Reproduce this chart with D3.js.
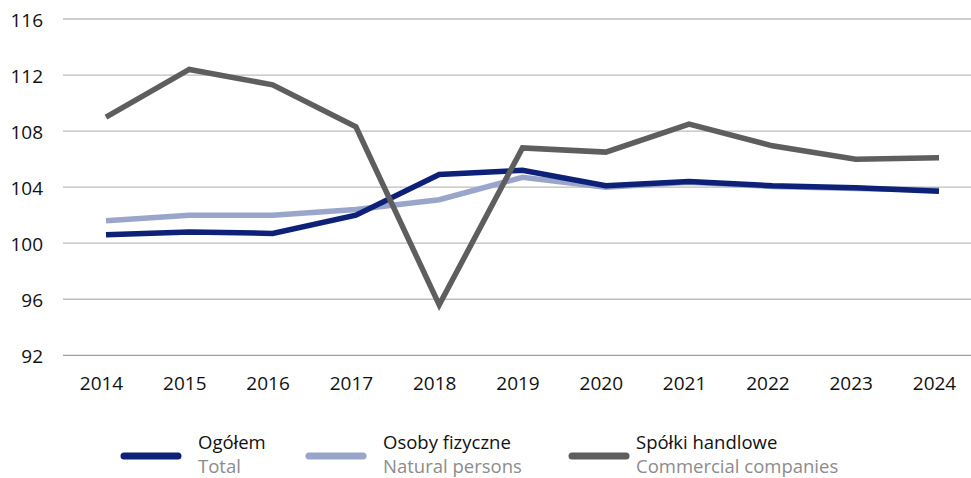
<!DOCTYPE html>
<html><head><meta charset="utf-8">
<script src="https://cdn.jsdelivr.net/npm/d3@7"></script>
<style>body{margin:0;background:#fff}svg{display:block;font-family:"Open Sans",sans-serif}</style>
</head><body><svg id="c" width="971" height="478"></svg>
<script>
const years = [2014,2015,2016,2017,2018,2019,2020,2021,2022,2023,2024];
const ogolem = [100.6,100.8,100.7,102.0,104.9,105.2,104.1,104.4,104.1,103.95,103.7];
const osoby = [101.6,102.0,102.0,102.4,103.1,104.7,104.0,104.35,104.05,103.9,103.8];
const spolki = [109.0,112.4,111.3,108.3,95.6,106.8,106.5,108.5,106.95,106.0,106.1];
const yTicks = [92,96,100,104,108,112,116];
const seriesNames = ["Ogółem","Osoby fizyczne","Spółki handlowe"];
const seriesNamesEn = ["Total","Natural persons","Commercial companies"];
const colors = ["#0c2177","#9aa5cb","#5e5e5e"];

const svg = d3.select("#c");
const x = d3.scalePoint().domain(years).range([106,939]);
const y = d3.scaleLinear().domain([92,116]).range([355.3,19]);

// gridlines
svg.append("g").selectAll("line").data(yTicks).join("line")
  .attr("x1",63).attr("x2",971).attr("y1",d=>y(d)).attr("y2",d=>y(d))
  .attr("stroke",d=>d===92?"#a0a0a0":"#bdbdbd").attr("stroke-width",1.3);

// y labels
const yAxis = d3.axisLeft(y).tickValues(yTicks).tickSize(0).tickPadding(0);
const yg = svg.append("g").attr("transform","translate(43,1)").call(yAxis);
yg.select(".domain").remove();
yg.selectAll("text").attr("font-size",19).attr("fill","#111").attr("font-family","Open Sans");

// x labels
const xAxis = d3.axisBottom(x).tickSize(0).tickPadding(0);
const xg = svg.append("g").attr("transform","translate(-5,376)").call(xAxis);
xg.select(".domain").remove();
xg.selectAll("text").attr("font-size",19).attr("fill","#111").attr("font-family","Open Sans");

const line = d3.line().x((d,i)=>x(years[i])).y(d=>y(d)).curve(d3.curveLinear);
const order = [1,0,2];
const data = [ogolem,osoby,spolki];
order.forEach(k=>{
  svg.append("path").attr("d",line(data[k])).attr("fill","none")
    .attr("stroke",colors[k]).attr("stroke-width",5.5).attr("stroke-linejoin","miter");
});

// legend
const legX = [120,305,568];
const legText = [198,383,636];
const lg = svg.append("g");
seriesNames.forEach((n,i)=>{
  lg.append("line").attr("x1",legX[i]+4).attr("x2",legX[i]+58).attr("y1",456).attr("y2",456)
    .attr("stroke",colors[i]).attr("stroke-width",7).attr("stroke-linecap","round");
  lg.append("text").attr("x",legText[i]).attr("y",449).attr("font-size",18.5).attr("fill","#111").text(n);
  lg.append("text").attr("x",legText[i]).attr("y",472.5).attr("font-size",18.5).attr("fill","#8c8c8c").text(seriesNamesEn[i]);
});
</script></body></html>
